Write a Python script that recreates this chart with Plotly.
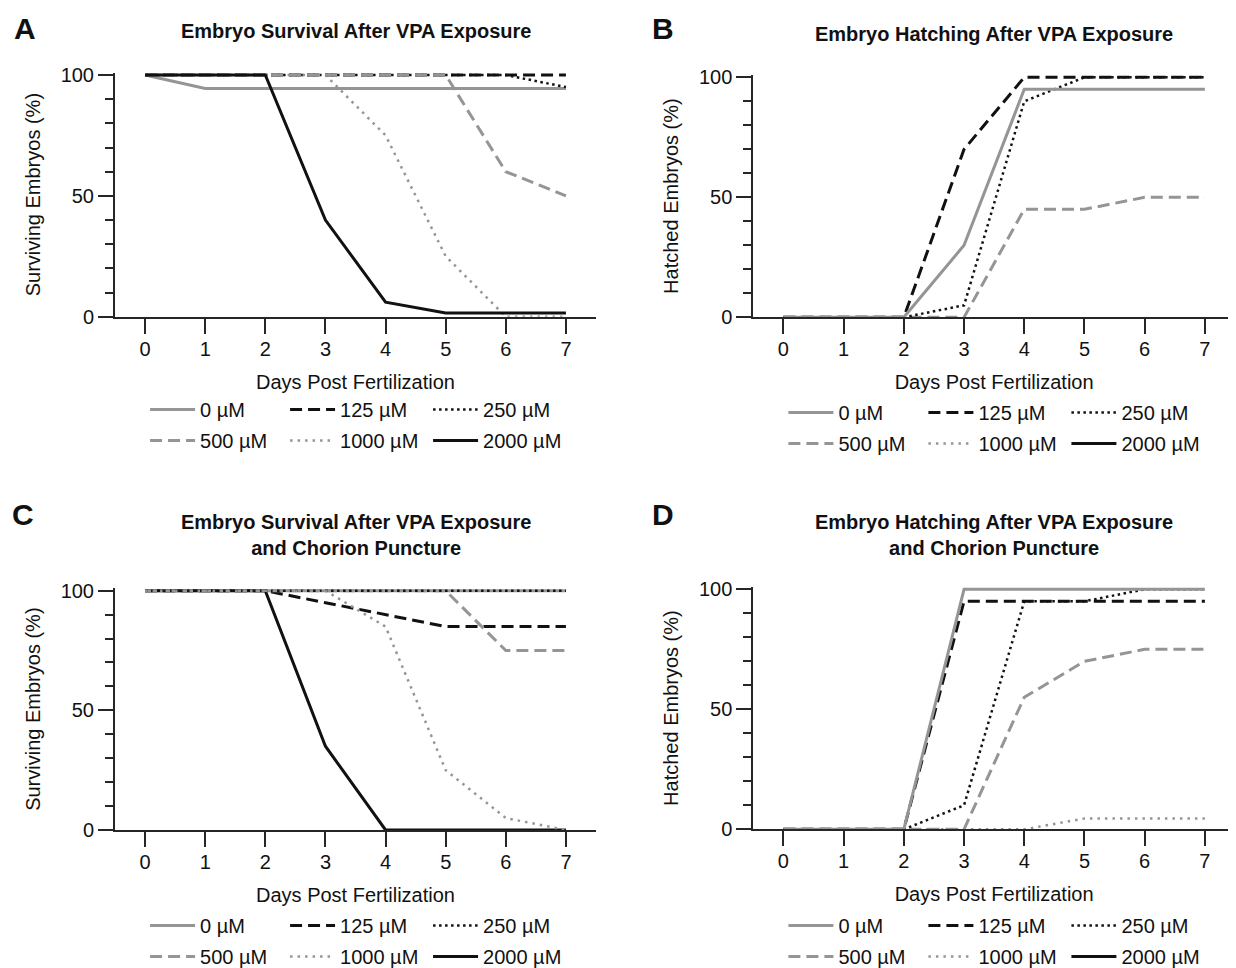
import plotly.graph_objects as go

# ---------------- data ----------------
days = [0, 1, 2, 3, 4, 5, 6, 7]
x_ticks = [0, 1, 2, 3, 4, 5, 6, 7]
y_ticks = [0, 50, 100]
conc_labels = ["0 µM", "125 µM", "250 µM", "500 µM", "1000 µM", "2000 µM"]

# A: survival after VPA exposure (%)
surv_a_0 = [100, 94.4, 94.4, 94.4, 94.4, 94.4, 94.4, 94.4]
surv_a_125 = [100, 100, 100, 100, 100, 100, 100, 100]
surv_a_250 = [100, 100, 100, 100, 100, 100, 100, 95]
surv_a_500 = [100, 100, 100, 100, 100, 100, 60, 50]
surv_a_1000 = [100, 100, 100, 100, 75, 25, 0, 0]
surv_a_2000 = [100, 100, 100, 40, 6, 1.5, 1.5, 1.5]

# B: hatching after VPA exposure (%)
hatch_b_0 = [0, 0, 0, 30, 95, 95, 95, 95]
hatch_b_125 = [0, 0, 0, 70, 100, 100, 100, 100]
hatch_b_250 = [0, 0, 0, 5, 90, 100, 100, 100]
hatch_b_500 = [0, 0, 0, 0, 45, 45, 50, 50]
hatch_b_1000 = [None, None, None, None, None, None, None, None]
hatch_b_2000 = [None, None, None, None, None, None, None, None]

# C: survival after VPA exposure and chorion puncture (%)
surv_c_0 = [100, 100, 100, 100, 100, 100, 100, 100]
surv_c_125 = [100, 100, 100, 95, 90, 85, 85, 85]
surv_c_250 = [100, 100, 100, 100, 100, 100, 100, 100]
surv_c_500 = [100, 100, 100, 100, 100, 100, 75, 75]
surv_c_1000 = [100, 100, 100, 100, 85, 25, 5, 0]
surv_c_2000 = [100, 100, 100, 35, 0, 0, 0, 0]

# D: hatching after VPA exposure and chorion puncture (%)
hatch_d_0 = [0, 0, 0, 100, 100, 100, 100, 100]
hatch_d_125 = [0, 0, 0, 95, 95, 95, 95, 95]
hatch_d_250 = [0, 0, 0, 10, 95, 95, 100, 100]
hatch_d_500 = [0, 0, 0, 0, 55, 70, 75, 75]
hatch_d_1000 = [0, 0, 0, 0, 0, 4.5, 4.5, 4.5]
hatch_d_2000 = [None, None, None, None, None, None, None, None]

panel_data = [
    [surv_a_0, surv_a_125, surv_a_250, surv_a_500, surv_a_1000, surv_a_2000],
    [hatch_b_0, hatch_b_125, hatch_b_250, hatch_b_500, hatch_b_1000, hatch_b_2000],
    [surv_c_0, surv_c_125, surv_c_250, surv_c_500, surv_c_1000, surv_c_2000],
    [hatch_d_0, hatch_d_125, hatch_d_250, hatch_d_500, hatch_d_1000, hatch_d_2000],
]
panel_titles = [
    "Embryo Survival After VPA Exposure",
    "Embryo Hatching After VPA Exposure",
    "Embryo Survival After VPA Exposure<br>and Chorion Puncture",
    "Embryo Hatching After VPA Exposure<br>and Chorion Puncture",
]
panel_letters = ["A", "B", "C", "D"]
y_titles = ["Surviving Embryos (%)", "Hatched Embryos (%)",
            "Surviving Embryos (%)", "Hatched Embryos (%)"]
x_title = "Days Post Fertilization"

# ---------------- styling ----------------
OFF = 8                      # page body margin
W, H = 1236 - OFF, 968 - OFF  # figure size so it fits the window
FONT = "Arial, Liberation Sans, Helvetica, sans-serif"
GRAY = "#959595"
BLACK = "#111111"
AXC = "#262626"


def fx(px):
    return (px - OFF) / W


def fy(py):
    return 1 - (py - OFF) / H


styles = [
    dict(color=GRAY, width=3, dash="solid"),
    dict(color=BLACK, width=3, dash="12px,6px"),
    dict(color=BLACK, width=2.5, dash="2.5px,3.5px"),
    dict(color=GRAY, width=3, dash="12px,6px"),
    dict(color=GRAY, width=2.5, dash="2.5px,5px"),
    dict(color=BLACK, width=3, dash="solid"),
]
draw_orders = [
    [0, 1, 2, 3, 4, 5],
    [5, 4, 3, 2, 1, 0],
    [0, 5, 1, 3, 2, 4],
    [5, 4, 3, 2, 1, 0],
]

# pixel geometry per panel (screen px): (x of y-axis (x=-0.5), x of x=7.5,
#                                         y of 0, y of 100)
geom = [
    (115.0, 596.0, 316.7, 75.0),
    (753.3, 1235.0, 317.3, 77.3),
    (115.0, 596.0, 830.0, 590.7),
    (753.3, 1235.0, 829.3, 589.3),
]
title_pos = [(355.5, 31), (994, 34), (355.5, 534.5), (994, 534.5)]
letter_pos = [(25, 28), (663, 29), (23, 515), (663, 515)]
legend_rows = [(410, 441.5), (413, 445), (926, 958), (926, 958)]
legend_text_offsets = [55, 195, 338]
ITEMW = 45

fig = go.Figure()
layout = dict(
    width=W, height=H,
    margin=dict(l=0, r=0, t=0, b=0, pad=0, autoexpand=False),
    paper_bgcolor="white", plot_bgcolor="white",
    font=dict(family=FONT, size=20, color="#111111"),
    annotations=[],
)

legend_idx = 0
for p in range(4):
    xl, xr, y0, y100 = geom[p]
    ymax = 101
    ytop = y0 - (y0 - y100) * ymax / 100.0
    sfx = "" if p == 0 else str(p + 1)
    xa, ya = "x" + sfx, "y" + sfx
    layout["xaxis" + sfx] = dict(
        domain=[fx(xl), fx(xr)], anchor=ya, range=[-0.5, 7.5],
        tickmode="array", tickvals=x_ticks, ticktext=[str(v) for v in x_ticks],
        showline=True, linecolor=AXC, linewidth=2,
        ticks="outside", ticklen=15, tickwidth=2, tickcolor=AXC,
        showgrid=False, zeroline=False, ticklabelstandoff=-2, automargin=False,
        tickfont=dict(size=20, family=FONT, color="#111111"),
        title=dict(text=x_title, font=dict(size=20, family=FONT), standoff=16),
        fixedrange=True,
    )
    layout["yaxis" + sfx] = dict(
        domain=[fy(y0), fy(ytop)], anchor=xa, range=[0, ymax],
        tickmode="array", tickvals=y_ticks, ticktext=[str(v) for v in y_ticks],
        showline=True, linecolor=AXC, linewidth=2,
        ticks="outside", ticklen=15, tickwidth=2, tickcolor=AXC,
        minor=dict(tickvals=[10, 20, 30, 40, 60, 70, 80, 90], ticks="outside",
                   ticklen=8, tickwidth=2, tickcolor=AXC, showgrid=False),
        showgrid=False, zeroline=False, ticklabelstandoff=0, automargin=False,
        tickfont=dict(size=20, family=FONT, color="#111111"),
        title=dict(text=y_titles[p], font=dict(size=20, family=FONT), standoff=15),
        fixedrange=True,
    )

    # legends: one per column, two rows each
    x0pix = xl + (xr - xl) * 0.5 / 8.0
    row1, row2 = legend_rows[p]
    col_legends = []
    for c in range(3):
        legend_idx += 1
        lname = "legend" if legend_idx == 1 else "legend" + str(legend_idx)
        col_legends.append(lname)
        text_x = x0pix + legend_text_offsets[c]
        layout[lname] = dict(
            x=fx(text_x - (ITEMW + 10)), xanchor="left",
            y=fy(row1 - 20), yanchor="top",
            orientation="v", itemwidth=ITEMW, tracegroupgap=2,
            bgcolor="rgba(0,0,0,0)", borderwidth=0,
            font=dict(size=20, family=FONT, color="#111111"),
            itemclick=False, itemdoubleclick=False,
        )

    traces = []
    for k in draw_orders[p]:
        st = styles[k]
        traces.append(go.Scatter(
            x=days, y=panel_data[p][k], mode="lines", name=conc_labels[k],
            xaxis=xa, yaxis=ya, line=dict(color=st["color"], width=st["width"], dash=st["dash"]),
            legend=col_legends[k % 3], legendgroup="p%d_%d" % (p, k),
            legendrank=k, connectgaps=False, hoverinfo="skip",
        ))
    for t in traces:
        fig.add_trace(t)

    tx, ty = title_pos[p]
    layout["annotations"].append(dict(
        text="<b>" + panel_titles[p] + "</b>", x=fx(tx), y=fy(ty),
        xref="paper", yref="paper", xanchor="center", yanchor="middle",
        showarrow=False, font=dict(size=20, family=FONT, color="#111111"),
    ))
    lx, ly = letter_pos[p]
    layout["annotations"].append(dict(
        text="<b>" + panel_letters[p] + "</b>", x=fx(lx), y=fy(ly),
        xref="paper", yref="paper", xanchor="center", yanchor="middle",
        showarrow=False, font=dict(size=30, family=FONT, color="#111111"),
    ))

fig.update_layout(**layout)
fig.write_html("out.html")
